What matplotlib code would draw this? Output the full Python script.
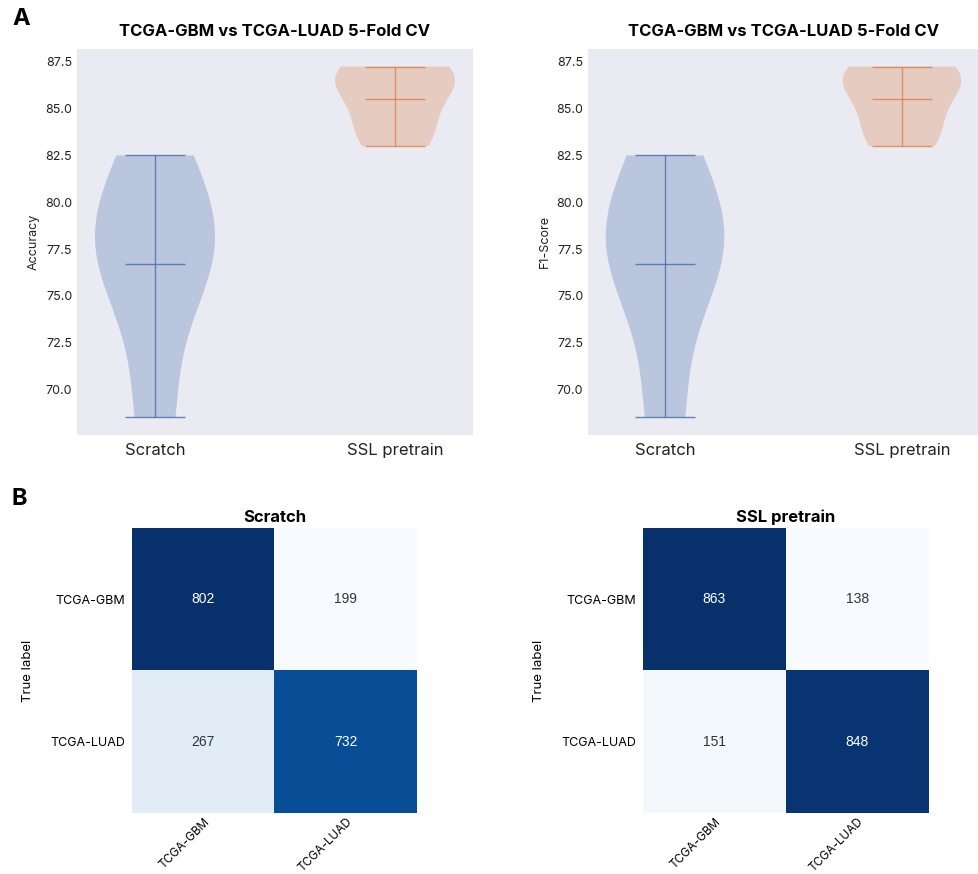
import matplotlib.pyplot as plt
import numpy as np

# 5-fold CV scores
groups = ['Scratch', 'SSL pretrain']
acc_scratch = [68.5, 76.5, 78.0, 78.0, 82.5]
acc_ssl = [83.0, 84.25, 86.25, 86.75, 87.25]
f1_scratch = [68.5, 76.5, 78.0, 78.0, 82.5]
f1_ssl = [83.0, 84.25, 86.25, 86.75, 87.25]

# confusion matrices
class_names = ['TCGA-GBM', 'TCGA-LUAD']
cm_scratch = [[802, 199], [267, 732]]
cm_ssl = [[863, 138], [151, 848]]

colors = ['#4C72B0', '#DD8452']
W, H = 979, 874
fig = plt.figure(figsize=(W / 100, H / 100), dpi=100)
plt.rcParams['font.family'] = ['Inter', 'DejaVu Sans']


def box(x0, y0, x1, y1):
    return [x0 / W, 1 - y1 / H, (x1 - x0) / W, (y1 - y0) / H]


def violin_panel(rect, data, ylabel):
    ax = fig.add_axes(rect)
    ax.set_facecolor('#EAEAF2')
    for s in ax.spines.values():
        s.set_visible(False)
    for i, d in enumerate(data):
        parts = ax.violinplot([d], positions=[i + 1], showmeans=True, showextrema=True)
        for b in parts['bodies']:
            b.set_facecolor(colors[i])
            b.set_edgecolor('none')
            b.set_alpha(0.3)
        for k in ['cmeans', 'cmins', 'cmaxes', 'cbars']:
            parts[k].set_color(colors[i])
            parts[k].set_linewidth(1)
            parts[k].set_alpha(0.85)
    ax.set_xticks([1, 2])
    ax.set_xticklabels(groups)
    ax.set_yticks(np.arange(70, 88, 2.5))
    ax.tick_params(length=0, colors='#222222')
    ax.tick_params(axis='y', labelsize=9)
    ax.tick_params(axis='x', labelsize=12, pad=6)
    ax.set_ylabel(ylabel, fontsize=9, color='#222222')
    ax.set_title('TCGA-GBM vs TCGA-LUAD 5-Fold CV', fontsize=12, fontweight='bold', pad=9)
    return ax


def cm_panel(rect, cm, title):
    ax = fig.add_axes(rect)
    cm = np.array(cm)
    ax.imshow(cm, cmap='Blues', aspect='auto')
    thresh = (cm.max() + cm.min()) / 2
    for i in range(2):
        for j in range(2):
            ax.text(j, i, str(cm[i, j]), ha='center', va='center', fontsize=10,
                    family=['Liberation Sans', 'DejaVu Sans'],
                    color='white' if cm[i, j] > thresh else '#333333')
    for s in ax.spines.values():
        s.set_visible(False)
    ax.set_xticks([0, 1])
    ax.set_yticks([0, 1])
    ax.set_xticklabels(class_names, rotation=45, ha='right', rotation_mode='anchor')
    ax.set_yticklabels(class_names)
    ax.tick_params(length=0, labelsize=9, pad=5)
    ax.tick_params(axis='x', labelsize=8.5, pad=2)
    ax.set_ylabel('True label', fontsize=9.5, labelpad=12)
    ax.set_title(title, fontsize=12, fontweight='bold', pad=4)
    return ax


violin_panel(box(77, 49, 473, 435), [acc_scratch, acc_ssl], 'Accuracy')
violin_panel(box(588, 49, 979, 435), [f1_scratch, f1_ssl], 'F1-Score')
cm_panel(box(132, 528, 417, 813), cm_scratch, 'Scratch')
cm_panel(box(643, 528, 929, 813), cm_ssl, 'SSL pretrain')

fig.text(12 / W, 1 - 8 / H, 'A', fontsize=17, fontweight='bold', va='top')
fig.text(12 / W, 1 - 488 / H, 'B', fontsize=17, fontweight='bold', va='top')

plt.savefig('out.png', dpi=100)
